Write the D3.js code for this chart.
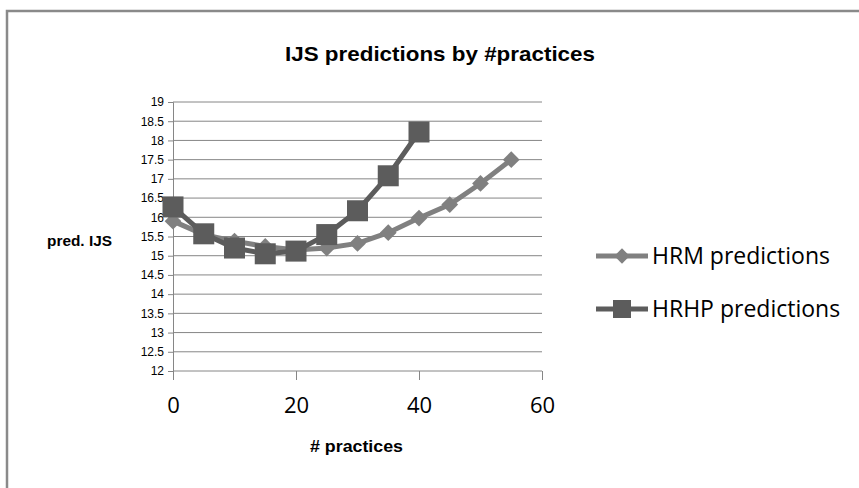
<!DOCTYPE html>
<html><head><meta charset="utf-8">
<script src="https://cdn.jsdelivr.net/npm/d3@7"></script>
<style>body{margin:0;background:#fff}svg{display:block}</style>
</head><body>
<svg id="c" width="859" height="488"></svg>
<script>
const hrmX = [0,5,10,15,20,25,30,35,40,45,50,55];
const hrmY = [15.9,15.55,15.38,15.24,15.15,15.2,15.32,15.6,15.98,16.33,16.88,17.5];
const hrhpX = [0,5,10,15,20,25,30,35,40];
const hrhpY = [16.27,15.57,15.2,15.05,15.12,15.55,16.17,17.08,18.22];
const yTicks = [12,12.5,13,13.5,14,14.5,15,15.5,16,16.5,17,17.5,18,18.5,19];
const xTicks = [0,20,40,60];
const seriesNames = ["HRM predictions","HRHP predictions"];

const svg = d3.select("#c");
const x = d3.scaleLinear().domain([0,60]).range([173,542]);
const y = d3.scaleLinear().domain([12,19]).range([371,102]);
const grid = "#868686";

svg.append("rect").attr("x",7).attr("y",11).attr("width",900).attr("height",600)
  .attr("fill","none").attr("stroke","#8a8a8a").attr("stroke-width",2.5);

svg.append("text").attr("x",285).attr("y",61)
  .attr("font-family","Liberation Sans, sans-serif").attr("font-weight","bold")
  .attr("font-size",21).attr("textLength",310).attr("lengthAdjust","spacingAndGlyphs")
  .attr("fill","#000").text("IJS predictions by #practices");

// y axis with gridlines
const ya = svg.append("g").attr("transform","translate(173,0)")
  .call(d3.axisLeft(y).tickValues(yTicks).tickSize(5).tickFormat(d3.format("")).tickPadding(4));
ya.select(".domain").attr("stroke",grid);
ya.selectAll(".tick line").attr("stroke",grid);
ya.selectAll("text").attr("font-family","Liberation Sans, sans-serif").attr("font-size",12).attr("fill","#000");
svg.append("g").selectAll("line").data(yTicks).join("line")
  .attr("x1",173).attr("x2",542).attr("y1",d=>y(d)).attr("y2",d=>y(d))
  .attr("stroke",grid).attr("stroke-width",1);

const xa = svg.append("g").attr("transform","translate(0,371)")
  .call(d3.axisBottom(x).tickValues(xTicks).tickSize(9).tickPadding(17));
xa.select(".domain").remove();
xa.selectAll(".tick line").attr("stroke",grid);
xa.selectAll("text").attr("font-family","Open Sans, sans-serif").attr("font-size",22).attr("fill","#000");

svg.append("text").attr("x",47).attr("y",246)
  .attr("font-family","Liberation Sans, sans-serif").attr("font-weight","bold")
  .attr("font-size",15).attr("textLength",65).attr("lengthAdjust","spacingAndGlyphs").text("pred. IJS");
svg.append("text").attr("x",310).attr("y",452)
  .attr("font-family","Liberation Sans, sans-serif").attr("font-weight","bold")
  .attr("font-size",17).attr("textLength",93).attr("lengthAdjust","spacingAndGlyphs").text("# practices");

const line = d3.line().x(d=>x(d[0])).y(d=>y(d[1]));
const hrm = hrmX.map((v,i)=>[v,hrmY[i]]);
const hrhp = hrhpX.map((v,i)=>[v,hrhpY[i]]);
const c1 = "#808080", c2 = "#5c5c5c";

svg.append("path").datum(hrm).attr("d",line).attr("fill","none").attr("stroke",c1).attr("stroke-width",5);
svg.append("g").selectAll("path").data(hrm).join("path")
  .attr("d",d3.symbol(d3.symbolDiamond2,180)).attr("transform",d=>`translate(${x(d[0])},${y(d[1])})`)
  .attr("fill",c1);
svg.append("path").datum(hrhp).attr("d",line).attr("fill","none").attr("stroke",c2).attr("stroke-width",5);
svg.append("g").selectAll("rect").data(hrhp).join("rect")
  .attr("x",d=>x(d[0])-10.5).attr("y",d=>y(d[1])-10.5).attr("width",21).attr("height",21)
  .attr("fill",c2);

// legend
const lg = svg.append("g");
[[256,c1,"d"],[309,c2,"s"]].forEach((r,i)=>{
  lg.append("line").attr("x1",596).attr("x2",648).attr("y1",r[0]).attr("y2",r[0]).attr("stroke",r[1]).attr("stroke-width",5);
  if(r[2]==="d") lg.append("path").attr("d",d3.symbol(d3.symbolDiamond2,150)).attr("transform",`translate(622,${r[0]})`).attr("fill",r[1]);
  else lg.append("rect").attr("x",613).attr("y",r[0]-9).attr("width",18).attr("height",18).attr("fill",r[1]);
  lg.append("text").attr("x",652).attr("y",r[0]+8).attr("font-family","Open Sans, sans-serif")
    .attr("font-size",23).attr("fill","#000").text(seriesNames[i]);
});
</script>
</body></html>
